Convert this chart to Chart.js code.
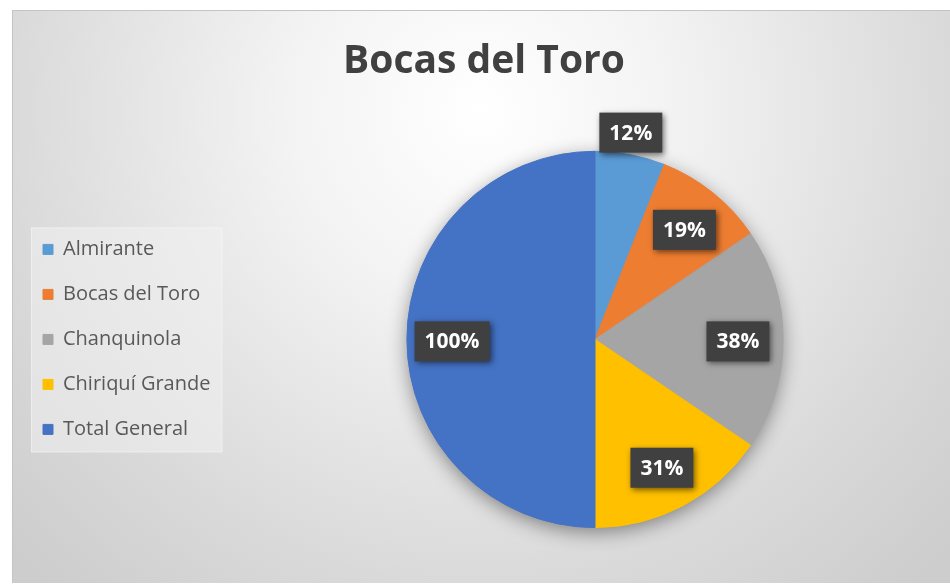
<!DOCTYPE html>
<html>
<head>
<meta charset="utf-8">
<title>Bocas del Toro</title>
<script src="https://cdn.jsdelivr.net/npm/chart.js@4.4.1/dist/chart.umd.min.js"></script>
<style>
  html, body { margin: 0; padding: 0; background: #fff; overflow: hidden; }
  #wrap { width: 950px; height: 586px; }
</style>
</head>
<body>
<div id="wrap"><canvas id="chart" width="950" height="586"></canvas></div>
<script>
// Values (percent of Total General)
const categories = ['Almirante', 'Bocas del Toro', 'Chanquinola', 'Chiriquí Grande', 'Total General'];
const percentages = [12, 19, 38, 31, 100];
const sliceColors = ['#5B9BD5', '#ED7D31', '#A5A5A5', '#FFC000', '#4472C4'];
const chartTitle = 'Bocas del Toro';

// layout bits
const plotCentreX = 595;

// Grey gradient frame like the Excel chart area, plus the legend panel
const backgroundPlugin = {
    id: 'excelBackground',
    beforeDraw(chart) {
        const ctx = chart.ctx;
        ctx.save();
        ctx.fillStyle = '#ffffff';
        ctx.fillRect(0, 0, chart.width, chart.height);

        const g = ctx.createRadialGradient(480, 110, 0, 480, 110, 640);
        g.addColorStop(0, '#ffffff');
        g.addColorStop(0.3, '#f3f3f3');
        g.addColorStop(0.75, '#d9d9d9');
        g.addColorStop(1, '#cdcdcd');
        ctx.fillStyle = g;
        ctx.fillRect(12, 10, 938, 573);
        ctx.strokeStyle = '#c4c4c4';
        ctx.lineWidth = 1;
        ctx.beginPath();
        ctx.moveTo(12.5, 583);
        ctx.lineTo(12.5, 10.5);
        ctx.lineTo(950, 10.5);
        ctx.stroke();

        // legend panel behind the legend items
        const boxes = chart.legend.legendHitBoxes;
        if (boxes && boxes.length) {
            const left = boxes[0].left - 12;
            const top = boxes[0].top - 12;
            const right = Math.max(...boxes.map(b => b.left + b.width)) + 12;
            const last = boxes[boxes.length - 1];
            const bottom = last.top + last.height + 13;
            ctx.fillStyle = 'rgba(240,240,240,0.55)';
            ctx.fillRect(left, top, right - left, bottom - top);
            ctx.strokeStyle = 'rgba(255,255,255,0.35)';
            ctx.strokeRect(left + 0.5, top + 0.5, right - left - 1, bottom - top - 1);
        }
        ctx.restore();
    }
};

// Soft shadow under the whole pie
const pieShadowPlugin = {
    id: 'pieShadow',
    beforeDatasetsDraw(chart) {
        const arc = chart.getDatasetMeta(0).data[0];
        if (!arc) return;
        const {x, y, outerRadius} = arc.getProps(['x', 'y', 'outerRadius'], true);
        const ctx = chart.ctx;
        ctx.save();
        ctx.shadowColor = 'rgba(0,0,0,0.45)';
        ctx.shadowBlur = 20;
        ctx.shadowOffsetY = 5;
        ctx.fillStyle = '#4472C4';
        ctx.beginPath();
        ctx.arc(x, y, outerRadius - 1, 0, Math.PI * 2);
        ctx.fill();
        ctx.restore();
    }
};

// Dark boxed data labels
const labelPlugin = {
    id: 'boxedLabels',
    afterDatasetsDraw(chart) {
        const ctx = chart.ctx;
        const meta = chart.getDatasetMeta(0);
        ctx.save();
        ctx.font = 'bold 21px "Open Sans"';
        ctx.textAlign = 'center';
        ctx.textBaseline = 'middle';
        meta.data.forEach((arc, i) => {
            const {x, y, startAngle, endAngle, outerRadius} =
                arc.getProps(['x', 'y', 'startAngle', 'endAngle', 'outerRadius'], true);
            const mid = (startAngle + endAngle) / 2;
            // thin slices get their label outside the pie
            const outside = (endAngle - startAngle) < 0.4;
            const f = outside ? 1.13 : 0.76;
            const cx = x + Math.cos(mid) * outerRadius * f - (outside ? 4 : 0);
            const cy = y + Math.sin(mid) * outerRadius * f + 2;
            const text = percentages[i] + '%';
            const w = ctx.measureText(text).width + 20;
            const h = 40;
            ctx.shadowColor = 'rgba(0,0,0,0.55)';
            ctx.shadowBlur = 6;
            ctx.shadowOffsetX = 2;
            ctx.shadowOffsetY = 2;
            ctx.fillStyle = '#404040';
            ctx.fillRect(cx - w / 2, cy - h / 2, w, h);
            ctx.shadowColor = 'transparent';
            ctx.fillStyle = '#ffffff';
            ctx.fillText(text, cx, cy + 1);
        });
        ctx.restore();
    }
};

// Keep the pie where Excel put it, to the right of the legend
const centrePlugin = {
    id: 'plotCentre',
    afterLayout(chart) {
        const a = chart.chartArea;
        a.left = 2 * plotCentreX - a.right;
        a.width = a.right - a.left;
    }
};

const ctx = document.getElementById('chart').getContext('2d');
new Chart(ctx, {
    type: 'pie',
    data: {
        labels: categories,
        datasets: [{
            data: percentages,
            backgroundColor: sliceColors,
            borderColor: sliceColors,
            borderWidth: 1
        }]
    },
    options: {
        responsive: false,
        animation: false,
        layout: {
            padding: { left: 18, right: 0, top: 0, bottom: 58 }
        },
        plugins: {
            title: {
                display: true,
                text: chartTitle,
                color: '#404040',
                font: { family: '"Open Sans"', size: 39, weight: 'bold' },
                padding: { top: 38, bottom: 66 }
            },
            legend: {
                position: 'left',
                fullSize: false,
                align: 'center',
                labels: {
                    color: '#595959',
                    font: { family: '"Open Sans"', size: 20 },
                    boxWidth: 10,
                    boxHeight: 10,
                    padding: 25
                }
            },
            tooltip: { enabled: false }
        }
    },
    plugins: [backgroundPlugin, pieShadowPlugin, labelPlugin, centrePlugin]
});
</script>
</body>
</html>
